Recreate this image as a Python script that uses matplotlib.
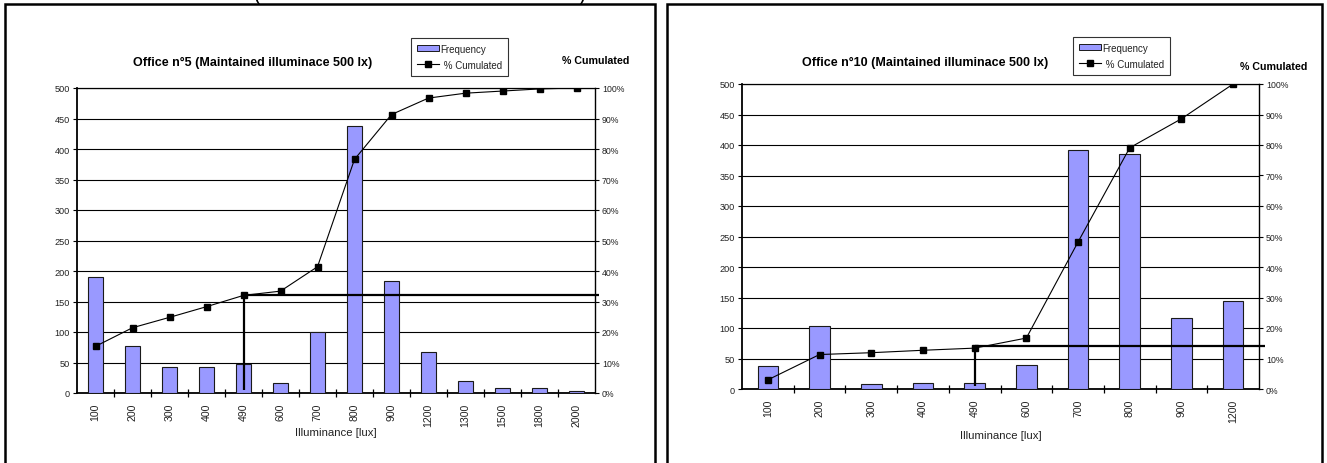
import numpy as np
import matplotlib
matplotlib.use("Agg")
import matplotlib.pyplot as plt
from matplotlib.patches import Patch, Rectangle
from matplotlib.lines import Line2D
from matplotlib.ticker import FuncFormatter

plt.rcParams['font.family'] = ['Liberation Sans', 'DejaVu Sans']

# ---------------- data ----------------
title_left = "Office n°5 (Maintained illuminace 500 lx)"
cats_left = ["100", "200", "300", "400", "490", "600", "700", "800", "900",
             "1200", "1300", "1500", "1800", "2000"]
freq_left = [190, 77, 42, 43, 47, 17, 100, 438, 183, 67, 20, 8, 9, 4]
cum_left = [0.153, 0.214, 0.248, 0.283, 0.320, 0.334, 0.414, 0.766, 0.913,
            0.967, 0.983, 0.990, 0.997, 1.000]
ref_left = 0.322

title_right = "Office n°10 (Maintained illuminace 500 lx)"
cats_right = ["100", "200", "300", "400", "490", "600", "700", "800", "900", "1200"]
freq_right = [37, 103, 8, 10, 10, 40, 392, 385, 116, 145]
cum_right = [0.030, 0.113, 0.119, 0.127, 0.134, 0.167, 0.482, 0.791, 0.886, 1.000]
ref_right = 0.142

legend_labels = ["Frequency", " % Cumulated"]
ref_index = 4  # the "490" category

W, H = 1327, 464
fig = plt.figure(figsize=(W / 100, H / 100), dpi=100)

BAR = '#9999FF'
TXT = '#222222'


def fx(px):
    return px / W


def fy(py):
    return 1 - py / H


def panel(x0, x1, ytop, ybot, cats, freq, cum, ref, title, title_cx,
          leg_x, leg_y, cumlab_cx, cumlab_y, xlab_y):
    ax = fig.add_axes([fx(x0), fy(ybot), fx(x1) - fx(x0), fy(ytop) - fy(ybot)])
    n = len(cats)
    x = np.arange(n)
    ax.bar(x, freq, width=0.4, color=BAR, edgecolor='#1a1a1a', linewidth=0.8, zorder=3)
    ax.set_xlim(-0.5, n - 0.5)
    ax.set_ylim(0, 500)
    ax.set_yticks(np.arange(0, 501, 50))
    ax.grid(axis='y', color='black', linewidth=0.8, zorder=0)
    ax.set_axisbelow(True)
    ax.set_xticks(x)
    ax.set_xticklabels(cats, rotation=90, fontsize=7.6, color=TXT)
    ax.tick_params(axis='x', which='major', length=0, pad=7)
    ax.set_xticks(np.arange(0.5, n - 0.5, 1.0), minor=True)
    ax.tick_params(axis='x', which='minor', length=6, direction='inout', width=0.9)
    ax.tick_params(axis='y', length=3, width=0.8, labelsize=6.6, labelcolor=TXT, pad=2)
    for s in ['left', 'bottom']:
        ax.spines[s].set_linewidth(1.3)
    ax.spines['top'].set_linewidth(0.9)
    ax.spines['right'].set_visible(False)

    ax2 = ax.twinx()
    ax2.set_ylim(0, 1)
    ax2.set_yticks(np.arange(0, 1.01, 0.1))
    ax2.yaxis.set_major_formatter(FuncFormatter(lambda v, p: f"{v * 100:.0f}%"))
    ax2.tick_params(axis='y', length=3, width=0.8, labelsize=6.3, labelcolor=TXT, pad=2)
    ax2.spines['right'].set_linewidth(1.0)
    for s in ['left', 'bottom', 'top']:
        ax2.spines[s].set_visible(False)
    ax2.plot(x, cum, color='black', linewidth=0.8, marker='s', markersize=4.8,
             zorder=5)
    # reference lines
    ax2.plot([ref_index, n - 0.5 + 0.12], [ref, ref], color='black',
             linewidth=1.6, clip_on=False, zorder=4, solid_capstyle='butt')
    ax2.plot([ref_index, ref_index], [cum[ref_index], 0.01], color='black',
             linewidth=1.6, zorder=4, solid_capstyle='butt')

    fig.text(fx(title_cx), fy(63), title, ha='center', va='center',
             fontsize=9.0, fontweight='bold', color='black')
    fig.text(fx(cumlab_cx), fy(cumlab_y), "% Cumulated", ha='center', va='center',
             fontsize=7.7, fontweight='bold', color='black')
    fig.text(fx((x0 + x1) / 2), fy(xlab_y), "Illuminance [lux]", ha='center',
             va='center', fontsize=8.2, color=TXT)

    handles = [Patch(facecolor=BAR, edgecolor='#1a1a1a', linewidth=0.7),
               Line2D([], [], color='black', linewidth=0.8, marker='s', markersize=4.8)]
    leg = fig.legend(handles, legend_labels, loc='upper left',
                     bbox_to_anchor=(fx(leg_x), fy(leg_y)), frameon=True,
                     fancybox=False, edgecolor='black', fontsize=7.0,
                     borderpad=0.6, handlelength=2.3, handleheight=0.55,
                     handletextpad=0.15, labelspacing=0.6, borderaxespad=0)
    leg.get_frame().set_linewidth(0.8)
    for t in leg.get_texts():
        t.set_color(TXT)
    return ax, ax2


panel(77, 595, 89, 394, cats_left, freq_left, cum_left, ref_left,
      title_left, 253, 411, 39, 596, 61, 433)
panel(742, 1259, 85, 390, cats_right, freq_right, cum_right, ref_right,
      title_right, 925, 1073, 38, 1274, 67, 436)

# outer chart frames (bottom edge lies below the page)
for (l, r) in [(5, 655), (667, 1322)]:
    fig.add_artist(Rectangle((fx(l), fy(H + 20)), fx(r) - fx(l), fy(5) - fy(H + 20),
                             transform=fig.transFigure, fill=False,
                             edgecolor='black', linewidth=1.8, clip_on=False))

# clipped remains of a heading above the page
fig.text(fx(257), fy(1), "(", ha='center', va='baseline', fontsize=15, color='black')
fig.text(fx(582), fy(1), ")", ha='center', va='baseline', fontsize=15, color='black')

fig.savefig("out.png", dpi=100)
